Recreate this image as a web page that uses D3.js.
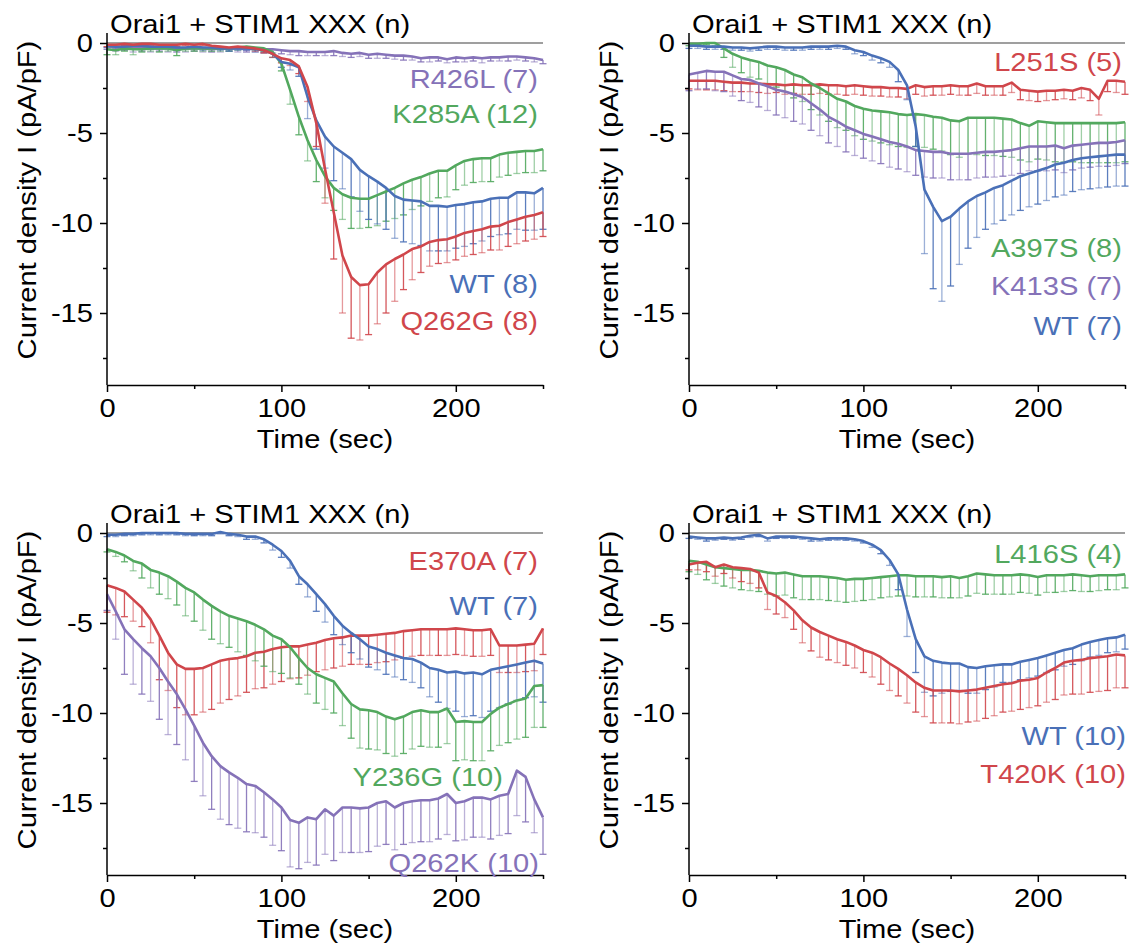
<!DOCTYPE html>
<html><head><meta charset="utf-8">
<script src="https://cdn.jsdelivr.net/npm/d3@7"></script>
<style>
html,body{margin:0;padding:0;background:#fff;}
svg{display:block;}
text{font-family:"Liberation Sans",Arial,sans-serif;}
</style></head>
<body>
<svg id="chart" width="1139" height="951"></svg>
<script>
// ---------- DATA ----------
const time = [0,5,10,15,20,25,30,35,40,45,50,55,60,65,70,75,80,85,90,95,100,105,110,115,120,125,130,135,140,145,150,155,160,165,170,175,180,185,190,195,200,205,210,215,220,225,230,235,240,245,250];
const xTicks = [0,100,200];
const xMinorTicks = [50,150,250];
const yTicks = [0,-5,-10,-15];
const yMinorTicks = [-2.5,-7.5,-12.5,-17.5];
const titleText = "Orai1 + STIM1 XXX (n)";
const xTitle = "Time (sec)";
const yTitle = "Current density I (pA/pF)";

// Panel A (top-left)
const a_R426L = [-0.2,-0.25,-0.25,-0.3,-0.3,-0.3,-0.3,-0.3,-0.35,-0.3,-0.3,-0.3,-0.35,-0.3,-0.3,-0.3,-0.35,-0.3,-0.35,-0.35,-0.4,-0.45,-0.45,-0.5,-0.5,-0.5,-0.45,-0.55,-0.6,-0.55,-0.65,-0.6,-0.65,-0.7,-0.7,-0.75,-0.85,-0.8,-0.8,-0.9,-0.8,-0.85,-0.8,-0.85,-0.8,-0.8,-0.75,-0.75,-0.8,-0.85,-0.95];
const a_R426L_err = [0.15,0.2,0.15,0.2,0.15,0.2,0.15,0.2,0.15,0.2,0.15,0.2,0.15,0.2,0.15,0.2,0.15,0.2,0.15,0.2,0.2,0.2,0.25,0.2,0.2,0.2,0.25,0.2,0.2,0.2,0.2,0.25,0.2,0.2,0.25,0.2,0.2,0.25,0.2,0.2,0.25,0.2,0.2,0.25,0.2,0.2,0.25,0.2,0.2,0.2,0.2];
const a_K285A = [-0.35,-0.4,-0.3,-0.35,-0.35,-0.3,-0.3,-0.3,-0.4,-0.3,-0.3,-0.3,-0.3,-0.3,-0.3,-0.25,-0.2,-0.25,-0.3,-0.5,-1.15,-2.6,-4.1,-5.4,-6.5,-7.4,-8.05,-8.4,-8.6,-8.65,-8.65,-8.45,-8.25,-8.05,-7.8,-7.6,-7.45,-7.25,-7.1,-7.1,-6.8,-6.55,-6.45,-6.4,-6.4,-6.2,-6.1,-6.05,-6.0,-6.0,-5.9];
const a_K285A_err = [0.3,0.25,0.15,0.3,0.15,0.15,0.2,0.15,0.3,0.15,0.15,0.15,0.15,0.15,0.15,0.15,0.1,0.15,0.15,0.3,0.4,0.8,1.0,1.15,1.2,1.2,1.25,1.4,1.7,1.65,1.6,1.7,1.65,1.7,1.75,1.65,1.6,1.55,1.5,1.45,1.35,1.35,1.3,1.3,1.3,1.25,1.25,1.2,1.2,1.2,1.2];
const a_WT = [-0.15,-0.2,-0.2,-0.15,-0.15,-0.2,-0.2,-0.2,-0.25,-0.25,-0.2,-0.25,-0.25,-0.3,-0.3,-0.3,-0.3,-0.35,-0.4,-0.6,-1.05,-1.15,-1.35,-3.0,-4.3,-5.2,-5.75,-6.1,-6.45,-7.05,-7.4,-7.7,-8.05,-8.5,-8.7,-8.75,-8.8,-9.05,-9.05,-9.1,-9.0,-8.95,-8.85,-8.8,-8.65,-8.6,-8.6,-8.3,-8.3,-8.35,-8.05];
const a_WT_err = [0.1,0.1,0.15,0.1,0.1,0.15,0.1,0.1,0.15,0.1,0.1,0.15,0.1,0.1,0.15,0.1,0.1,0.15,0.15,0.2,0.3,0.35,0.5,1.2,1.6,1.75,1.9,2.0,2.1,2.3,2.4,2.35,2.3,2.35,2.35,2.4,2.45,2.5,2.5,2.45,2.4,2.35,2.3,2.2,2.1,2.05,2.0,2.05,2.1,2.05,2.3];
const a_Q262G = [-0.1,-0.1,-0.05,-0.1,-0.05,-0.05,-0.1,-0.1,-0.1,-0.05,-0.1,-0.05,-0.15,-0.2,-0.25,-0.2,-0.25,-0.3,-0.4,-0.6,-0.85,-0.95,-1.3,-2.45,-4.45,-7.0,-9.4,-11.8,-13.0,-13.45,-13.4,-12.75,-12.3,-12.0,-11.75,-11.45,-11.3,-11.05,-10.95,-10.9,-10.75,-10.55,-10.45,-10.35,-10.2,-10.15,-9.95,-9.8,-9.65,-9.55,-9.4];
const a_Q262G_err = [0.1,0.1,0.1,0.1,0.1,0.1,0.1,0.1,0.1,0.1,0.1,0.1,0.1,0.1,0.1,0.1,0.1,0.15,0.15,0.2,0.25,0.3,0.4,0.8,1.3,1.9,2.6,3.2,3.4,3.05,2.8,2.85,2.7,2.35,1.95,1.7,1.45,1.35,1.3,1.3,1.3,1.3,1.3,1.3,1.3,1.35,1.35,1.35,1.35,1.35,1.35];

// Panel B (top-right)
const b_L251S = [-2.1,-2.1,-2.1,-2.1,-2.15,-2.2,-2.2,-2.25,-2.25,-2.3,-2.3,-2.35,-2.3,-2.35,-2.35,-2.3,-2.35,-2.35,-2.4,-2.35,-2.4,-2.45,-2.45,-2.5,-2.5,-2.55,-2.35,-2.45,-2.4,-2.4,-2.35,-2.4,-2.4,-2.25,-2.4,-2.4,-2.4,-2.2,-2.6,-2.65,-2.7,-2.65,-2.65,-2.6,-2.65,-2.5,-2.6,-3.1,-2.1,-2.1,-2.15];
const b_L251S_err = [0.45,0.5,0.5,0.5,0.5,0.5,0.5,0.45,0.5,0.5,0.45,0.5,0.5,0.5,0.5,0.5,0.5,0.5,0.5,0.5,0.5,0.5,0.5,0.5,0.5,0.55,0.5,0.5,0.5,0.5,0.5,0.5,0.5,0.55,0.5,0.5,0.5,0.55,0.55,0.55,0.55,0.55,0.5,0.5,0.5,0.55,0.6,0.9,0.6,0.65,0.7];
const b_A397S = [-0.05,-0.05,0.0,0.0,-0.3,-0.6,-0.8,-0.95,-1.05,-1.25,-1.35,-1.5,-1.75,-1.9,-2.25,-2.5,-2.8,-3.1,-3.25,-3.5,-3.65,-3.75,-3.8,-3.85,-3.95,-4.0,-3.95,-4.0,-4.1,-4.15,-4.3,-4.35,-4.15,-4.15,-4.15,-4.15,-4.2,-4.25,-4.45,-4.6,-4.35,-4.4,-4.45,-4.45,-4.45,-4.45,-4.45,-4.45,-4.45,-4.45,-4.4];
const b_A397S_err = [0.1,0.1,0.1,0.15,0.5,0.75,0.85,0.95,0.95,1.0,1.1,1.2,1.3,1.35,1.45,1.5,1.55,1.6,1.6,1.65,1.7,1.7,1.75,1.8,1.8,1.8,1.8,1.8,1.8,1.85,1.9,2.0,2.0,2.05,2.1,2.1,2.1,2.1,2.05,2.0,2.1,2.1,2.15,2.15,2.15,2.2,2.2,2.2,2.2,2.2,2.2];
const b_K413S = [-1.75,-1.65,-1.55,-1.6,-1.6,-1.8,-2.0,-2.05,-2.25,-2.4,-2.6,-2.7,-2.85,-3.0,-3.35,-3.7,-4.1,-4.35,-4.65,-4.85,-5.05,-5.2,-5.35,-5.5,-5.6,-5.75,-5.95,-6.0,-6.05,-6.05,-6.15,-6.15,-6.15,-6.1,-6.05,-6.05,-6.0,-5.95,-5.85,-5.75,-5.75,-5.75,-5.7,-5.85,-5.7,-5.65,-5.6,-5.55,-5.55,-5.5,-5.4];
const b_K413S_err = [0.9,0.9,1.0,1.05,1.1,1.15,1.2,1.25,1.3,1.35,1.4,1.45,1.5,1.5,1.5,1.45,1.45,1.4,1.4,1.4,1.35,1.35,1.35,1.4,1.4,1.4,1.4,1.45,1.45,1.45,1.45,1.45,1.45,1.4,1.4,1.4,1.4,1.4,1.4,1.35,1.35,1.35,1.35,1.35,1.35,1.3,1.3,1.3,1.3,1.3,1.3];
const b_WT = [-0.15,-0.15,-0.2,-0.2,-0.2,-0.25,-0.25,-0.3,-0.25,-0.2,-0.2,-0.25,-0.25,-0.25,-0.2,-0.2,-0.2,-0.15,-0.2,-0.4,-0.5,-0.7,-0.85,-1.05,-1.5,-2.35,-4.65,-8.15,-9.1,-9.9,-9.65,-9.2,-8.8,-8.5,-8.3,-8.05,-7.9,-7.65,-7.4,-7.25,-7.1,-6.95,-6.75,-6.65,-6.5,-6.4,-6.35,-6.3,-6.25,-6.2,-6.2];
const b_WT_err = [0.15,0.15,0.15,0.15,0.15,0.15,0.15,0.15,0.15,0.15,0.15,0.15,0.15,0.15,0.15,0.15,0.15,0.15,0.15,0.2,0.2,0.25,0.25,0.3,0.65,0.8,1.1,3.55,4.55,4.45,3.85,3.1,2.6,2.3,2.05,2.0,1.95,1.9,1.9,1.85,1.85,1.8,1.8,1.8,1.75,1.75,1.75,1.75,1.75,1.75,1.75];

// Panel C (bottom-left)
const c_WT = [-0.1,-0.1,-0.05,-0.05,0.0,0.0,0.0,0.0,0.0,-0.05,-0.05,-0.05,-0.05,0.05,-0.05,-0.1,-0.2,-0.2,-0.35,-0.65,-1.0,-1.55,-2.4,-2.85,-3.4,-3.95,-4.6,-5.15,-5.55,-5.9,-6.3,-6.45,-6.65,-6.8,-6.95,-7.0,-7.2,-7.5,-7.6,-7.75,-7.7,-7.8,-7.75,-7.85,-7.6,-7.5,-7.4,-7.3,-7.2,-7.1,-7.25];
const c_WT_err = [0.1,0.1,0.1,0.1,0.1,0.1,0.1,0.1,0.1,0.1,0.1,0.1,0.1,0.1,0.1,0.1,0.15,0.15,0.2,0.3,0.35,0.4,0.45,0.7,0.95,1.0,1.05,1.05,1.1,1.1,1.15,1.15,1.2,1.2,1.2,1.3,1.4,1.6,1.8,2.0,2.2,2.4,2.4,2.4,2.3,2.2,2.1,2.0,1.95,2.0,2.15];
const c_E370A = [-2.9,-3.05,-3.25,-3.7,-4.15,-4.8,-5.7,-6.65,-7.3,-7.55,-7.55,-7.5,-7.3,-7.1,-7.0,-6.95,-6.85,-6.65,-6.6,-6.45,-6.35,-6.3,-6.3,-6.2,-6.1,-5.95,-5.85,-5.8,-5.7,-5.7,-5.7,-5.65,-5.6,-5.55,-5.45,-5.4,-5.35,-5.35,-5.35,-5.35,-5.3,-5.35,-5.4,-5.4,-5.35,-6.25,-6.25,-6.25,-6.2,-6.15,-5.3];
const c_E370A_err = [1.5,1.5,1.4,1.2,1.05,1.3,2.45,2.1,2.4,2.55,2.55,2.45,2.5,2.35,2.25,2.1,2.0,2.0,2.0,1.95,1.9,1.8,1.75,1.7,1.6,1.65,1.65,1.6,1.6,1.6,1.6,1.55,1.55,1.5,1.5,1.45,1.45,1.45,1.45,1.45,1.45,1.45,1.45,1.45,1.45,1.5,1.5,1.5,1.5,1.5,1.45];
const c_Y236G = [-0.9,-1.05,-1.25,-1.55,-1.7,-2.05,-2.2,-2.4,-2.7,-3.05,-3.3,-3.7,-4.05,-4.35,-4.6,-4.75,-4.9,-5.1,-5.35,-5.7,-5.9,-6.35,-6.95,-7.5,-7.85,-8.05,-8.25,-8.9,-9.5,-9.8,-9.85,-9.95,-10.2,-10.35,-10.2,-9.95,-9.85,-9.95,-9.95,-9.75,-10.5,-10.45,-10.5,-10.5,-10.05,-9.7,-9.5,-9.3,-9.2,-8.5,-8.45];
const c_Y236G_err = [0.15,0.25,0.35,0.55,0.8,1.0,1.2,1.25,1.3,1.55,1.6,1.7,1.85,1.8,1.75,1.85,1.9,2.0,2.05,2.0,1.9,1.7,1.45,1.45,1.6,1.75,1.75,1.8,1.9,2.15,2.15,2.1,2.05,2.05,2.05,2.05,2.0,1.95,1.95,1.95,2.15,2.15,2.15,2.15,2.05,2.1,2.15,2.15,2.15,2.3,2.35];
const c_Q262K = [-3.4,-4.35,-5.35,-5.9,-6.4,-6.85,-7.5,-8.25,-8.95,-9.8,-10.7,-11.65,-12.4,-12.95,-13.3,-13.6,-13.95,-14.05,-14.4,-14.8,-15.25,-15.95,-16.1,-15.8,-15.9,-15.35,-15.7,-15.25,-15.25,-15.3,-15.25,-15.0,-14.9,-15.25,-15.0,-14.9,-14.85,-14.85,-14.75,-14.5,-15.0,-14.9,-14.7,-14.7,-14.8,-14.6,-14.5,-13.2,-13.55,-14.8,-15.8];
const c_Q262K_err = [0.9,1.55,2.5,2.5,2.55,2.5,2.85,2.95,2.8,2.8,3.1,2.95,2.95,2.95,2.9,2.8,2.65,2.6,2.5,2.55,2.4,2.6,2.55,2.5,2.55,2.5,2.5,2.5,2.5,2.45,2.45,2.4,2.4,2.35,2.3,2.3,2.3,2.3,2.25,2.25,2.1,2.15,2.2,2.2,2.2,2.2,2.2,2.5,2.5,1.85,2.05];

// Panel D (bottom-right)
const d_L416S = [-1.55,-1.6,-1.75,-1.9,-1.95,-2.0,-2.05,-2.05,-2.1,-2.2,-2.25,-2.2,-2.3,-2.4,-2.4,-2.4,-2.45,-2.5,-2.6,-2.55,-2.55,-2.5,-2.45,-2.4,-2.35,-2.35,-2.4,-2.4,-2.4,-2.45,-2.4,-2.5,-2.4,-2.25,-2.3,-2.35,-2.35,-2.35,-2.3,-2.35,-2.45,-2.35,-2.35,-2.35,-2.3,-2.35,-2.4,-2.35,-2.35,-2.35,-2.3];
const d_L416S_err = [0.6,0.7,0.85,0.9,1.0,1.05,1.1,1.15,1.15,1.2,1.25,1.25,1.3,1.3,1.3,1.3,1.3,1.3,1.25,1.25,1.2,1.2,1.15,1.15,1.15,1.15,1.15,1.15,1.15,1.15,1.2,1.1,1.1,1.1,1.1,1.05,1.05,1.05,1.0,1.0,1.0,0.95,0.95,0.9,0.9,0.9,0.85,0.85,0.8,0.8,0.75];
const d_WT = [-0.2,-0.25,-0.3,-0.3,-0.25,-0.3,-0.25,-0.15,-0.1,-0.3,-0.2,-0.2,-0.2,-0.25,-0.3,-0.35,-0.3,-0.3,-0.3,-0.35,-0.45,-0.65,-0.95,-1.5,-2.3,-4.25,-5.9,-6.85,-7.1,-7.2,-7.25,-7.25,-7.45,-7.5,-7.4,-7.35,-7.3,-7.3,-7.15,-7.05,-6.95,-6.8,-6.65,-6.5,-6.4,-6.2,-6.05,-5.95,-5.85,-5.8,-5.65];
const d_WT_err = [0.1,0.1,0.15,0.1,0.1,0.1,0.1,0.1,0.1,0.15,0.1,0.1,0.1,0.1,0.15,0.1,0.1,0.1,0.1,0.1,0.1,0.15,0.2,0.3,0.85,1.5,1.85,2.0,1.95,1.7,1.55,1.5,1.45,1.4,1.3,1.2,1.0,1.0,1.0,1.0,1.0,0.95,0.95,0.9,0.9,0.9,0.85,0.85,0.8,0.8,0.8];
const d_T420K = [-1.75,-1.65,-1.6,-1.9,-1.75,-1.9,-1.95,-2.0,-2.2,-3.3,-3.5,-3.85,-4.3,-4.85,-5.25,-5.5,-5.7,-5.9,-6.05,-6.25,-6.5,-6.65,-6.9,-7.25,-7.55,-7.9,-8.3,-8.6,-8.75,-8.75,-8.75,-8.8,-8.75,-8.7,-8.6,-8.5,-8.4,-8.35,-8.2,-8.15,-8.05,-7.75,-7.5,-7.2,-7.1,-7.05,-6.95,-6.9,-6.85,-6.75,-6.8];
const d_T420K_err = [0.3,0.4,0.55,0.5,0.5,0.6,0.75,0.8,0.85,0.95,1.0,0.85,1.05,1.25,1.3,1.4,1.35,1.3,1.3,1.25,1.25,1.35,1.5,1.5,1.5,1.55,1.65,1.6,1.8,1.8,1.8,1.8,1.75,1.75,1.7,1.65,1.55,1.55,1.6,1.55,1.55,1.65,1.75,1.8,1.85,1.9,1.9,1.9,1.9,1.85,1.8];

// ---------- STYLE / LAYOUT ----------
const C = {blue:"#4a70b7", red:"#d0464b", green:"#52a85e", purple:"#8572b8"};
const FONT = 26;   // glyph height
const SX = 1.12;   // horizontal stretch of the original artwork's lettering

const panels = [
  {x0:107, x1:543, yTop:43, series:[
    {label:"R426L (7)", color:C.purple, mean:a_R426L, err:a_R426L_err, lx:-5, ly:45},
    {label:"K285A (12)", color:C.green, mean:a_K285A, err:a_K285A_err, lx:-5, ly:80},
    {label:"WT (8)", color:C.blue, mean:a_WT, err:a_WT_err, lx:-5, ly:250},
    {label:"Q262G (8)", color:C.red, mean:a_Q262G, err:a_Q262G_err, lx:-5, ly:287}]},
  {x0:689, x1:1125, yTop:43, series:[
    {label:"L251S (5)", color:C.red, mean:b_L251S, err:b_L251S_err, lx:-3, ly:28},
    {label:"A397S (8)", color:C.green, mean:b_A397S, err:b_A397S_err, lx:-3, ly:214},
    {label:"K413S (7)", color:C.purple, mean:b_K413S, err:b_K413S_err, lx:-3, ly:252},
    {label:"WT (7)", color:C.blue, mean:b_WT, err:b_WT_err, lx:-3, ly:292}]},
  {x0:107, x1:543, yTop:533, series:[
    {label:"E370A (7)", color:C.red, mean:c_E370A, err:c_E370A_err, lx:-5, ly:37},
    {label:"WT (7)", color:C.blue, mean:c_WT, err:c_WT_err, lx:-5, ly:82},
    {label:"Y236G (10)", color:C.green, mean:c_Y236G, err:c_Y236G_err, lx:-40, ly:253},
    {label:"Q262K (10)", color:C.purple, mean:c_Q262K, err:c_Q262K_err, lx:-4, ly:339}]},
  {x0:689, x1:1125, yTop:533, series:[
    {label:"L416S (4)", color:C.green, mean:d_L416S, err:d_L416S_err, lx:-3, ly:30},
    {label:"WT (10)", color:C.blue, mean:d_WT, err:d_WT_err, lx:1, ly:212},
    {label:"T420K (10)", color:C.red, mean:d_T420K, err:d_T420K_err, lx:1, ly:250}]}
];

const svg = d3.select("#chart");
const PX_PER_UNIT = 18.0;

function addText(g, x, y, str, opts) {
  opts = opts || {};
  const t = g.append("text")
    .attr("transform", `translate(${x},${y})` + (opts.rotate ? ` rotate(${opts.rotate})` : "") + ` scale(${SX},1)`)
    .attr("font-size", FONT).attr("fill", opts.color || "#000")
    .attr("text-anchor", opts.anchor || "start").text(str);
  return t;
}

panels.forEach(p => {
  const x = d3.scaleLinear().domain([0,250]).range([p.x0, p.x1]);
  const y = d3.scaleLinear().domain([0,-19]).range([p.yTop, p.yTop + 19*PX_PER_UNIT]);
  const yAxisTop = y(0.55);
  const g = svg.append("g");

  // zero line
  g.append("line").attr("x1", x(0)).attr("x2", x(250)).attr("y1", y(0)).attr("y2", y(0))
    .attr("stroke", "#7f7f7f").attr("stroke-width", 1.6);

  // error bars (one-sided, downward, capped)
  p.series.forEach(s => {
    const eb = g.append("g").attr("stroke", s.color).attr("stroke-width", 1.3).attr("fill", "none");
    time.forEach((t, i) => {
      const op = i % 2 === 0 ? 0.9 : 0.55;
      const xv = x(t), y1 = y(s.mean[i]), y2 = y(s.mean[i] - s.err[i]);
      eb.append("line").attr("x1", xv).attr("x2", xv).attr("y1", y1).attr("y2", y2).attr("stroke-opacity", op);
      eb.append("line").attr("x1", xv - 3.5).attr("x2", xv + 3.5).attr("y1", y2).attr("y2", y2).attr("stroke-opacity", op);
    });
  });

  // mean lines
  const line = d3.line().x((d, i) => x(time[i])).y(d => y(d));
  p.series.forEach(s => {
    g.append("path").datum(s.mean).attr("d", line).attr("fill", "none")
      .attr("stroke", s.color).attr("stroke-width", 2.6).attr("stroke-linejoin", "round");
  });

  // axes
  const yAxis = d3.axisLeft(y).tickValues(yTicks).tickSize(7).tickSizeOuter(0).tickPadding(5).tickFormat(d => String(d));
  const ya = g.append("g").attr("transform", `translate(${x(0)},0)`).call(yAxis);
  ya.select(".domain").attr("d", `M0,${yAxisTop}V${y(-19)}`);
  ya.selectAll(".tick text").attr("x", -14 / SX).attr("transform", `scale(${SX},1)`);
  const yMinor = d3.axisLeft(y).tickValues(yMinorTicks).tickSize(4).tickFormat("");
  const ym = g.append("g").attr("transform", `translate(${x(0)},0)`).call(yMinor);
  ym.select(".domain").remove();

  const xAxis = d3.axisBottom(x).tickValues(xTicks).tickSize(7).tickSizeOuter(0).tickPadding(7).tickFormat(d => String(d));
  const xa = g.append("g").attr("transform", `translate(0,${y(-19)})`).call(xAxis);
  xa.selectAll(".tick text").attr("transform", `scale(${SX},1)`);
  const xMinor = d3.axisBottom(x).tickValues(xMinorTicks).tickSize(4).tickFormat("");
  const xm = g.append("g").attr("transform", `translate(0,${y(-19)})`).call(xMinor);
  xm.select(".domain").remove();

  [ya, ym, xa, xm].forEach(a => {
    a.selectAll("path,line").attr("stroke", "#000").attr("stroke-width", 1.5);
    a.selectAll("text").attr("font-size", FONT).attr("fill", "#000")
      .style("font-family", '"Liberation Sans", Arial, sans-serif');
  });

  // title
  addText(g, x(0) + 3, p.yTop - 10, titleText);
  // x title
  addText(g, (x(0) + x(250)) / 2, y(-19) + 63, xTitle, {anchor: "middle"});
  // y title
  addText(g, x(0) - 71, (yAxisTop + y(-19)) / 2 - 9, yTitle, {anchor: "middle", rotate: -90});
  // series labels
  p.series.forEach(s => {
    addText(g, x(250) + s.lx, p.yTop + s.ly, s.label, {anchor: "end", color: s.color});
  });
});
</script>
</body></html>
